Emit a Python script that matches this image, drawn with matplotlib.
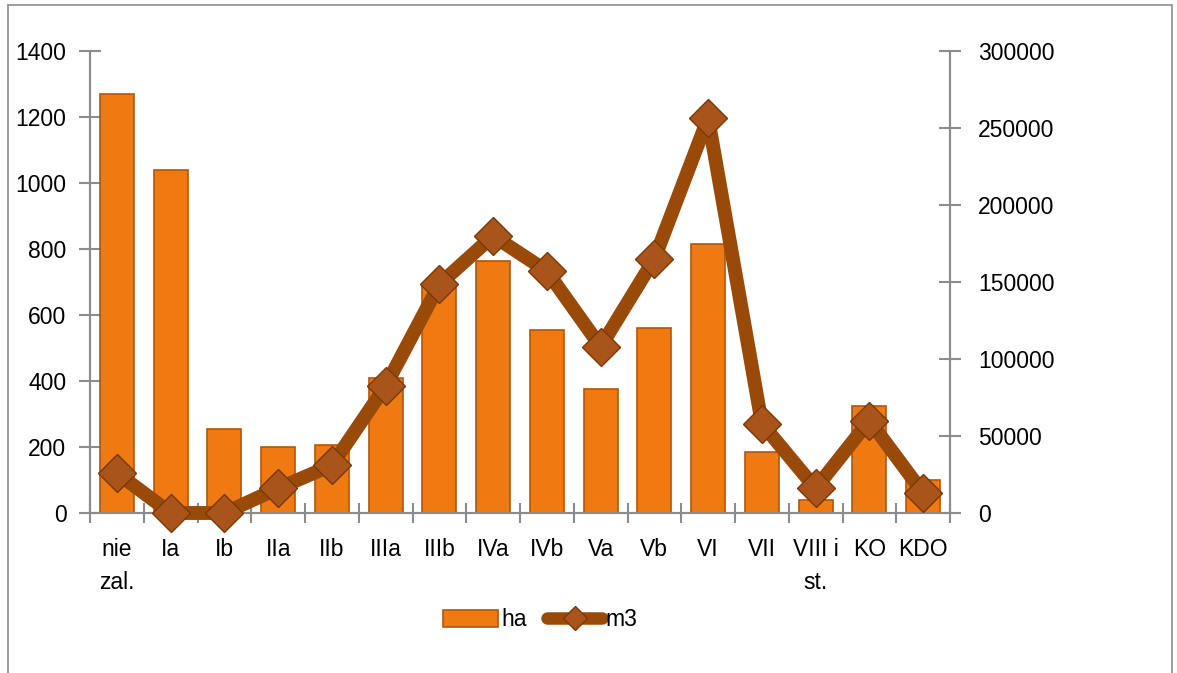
import matplotlib
matplotlib.use("Agg")
import matplotlib.pyplot as plt
from matplotlib.patches import Rectangle
from matplotlib.lines import Line2D
import numpy as np

# Data
categories = ["nie\nzal.", "Ia", "Ib", "IIa", "IIb", "IIIa", "IIIb", "IVa",
              "IVb", "Va", "Vb", "VI", "VII", "VIII i\nst.", "KO", "KDO"]
ha = [1270, 1040, 255, 200, 205, 410, 690, 765,
      555, 375, 560, 815, 185, 40, 325, 100]
m3 = [26000, 0, 0, 16000, 31000, 82500, 148500, 180000,
      157000, 108000, 165000, 256500, 58000, 16000, 60000, 13000]

bar_color = "#F07A12"
bar_edge = "#B2560A"
line_color = "#9A4A08"
marker_face = "#A9541A"
marker_edge = "#7A3806"
axis_color = "#8C8C8C"
fs = 16.5

plt.rcParams["font.family"] = ["Liberation Sans", "DejaVu Sans"]

fig = plt.figure(figsize=(11.77, 6.73), dpi=100)
ax = fig.add_axes([90 / 1177, 1 - 513 / 673, 860 / 1177, 462 / 673])
ax2 = ax.twinx()

x = np.arange(len(categories))
ax.bar(x, ha, width=0.63, color=bar_color, edgecolor=bar_edge, linewidth=1.2, zorder=2)
ax.set_xlim(-0.5, len(categories) - 0.5)
ax.set_ylim(0, 1400)
ax.set_yticks(range(0, 1401, 200))

ax2.plot(x, m3, color=line_color, linewidth=10, marker="D", markersize=19,
         markerfacecolor=marker_face, markeredgecolor=marker_edge,
         markeredgewidth=1, solid_joinstyle="round", zorder=3, clip_on=False)
ax2.set_ylim(0, 300000)
ax2.set_yticks(range(0, 300001, 50000))

# x ticks at category boundaries, labels at centres
ax.set_xticks(np.arange(-0.5, len(categories), 1))
ax.set_xticklabels([])
ax.set_xticks(x, minor=True)
ax.set_xticklabels(categories, minor=True, fontsize=fs, linespacing=1.55)
ax.tick_params(axis="x", which="minor", length=0, pad=18)
ax.tick_params(axis="x", which="major", direction="inout", length=14,
               color=axis_color, width=1.5)

ax.tick_params(axis="y", direction="inout", length=16, color=axis_color,
               width=1.5, labelsize=fs, pad=9)
ax2.tick_params(axis="y", direction="inout", length=16, color=axis_color,
                width=1.5, labelsize=fs, pad=12)

for a in (ax, ax2):
    a.spines["top"].set_visible(False)
    for s in ("left", "right", "bottom"):
        a.spines[s].set_color(axis_color)
        a.spines[s].set_linewidth(1.5)
ax.set_zorder(1)
ax2.set_zorder(2)
ax2.patch.set_visible(False)

# legend
handles = [
    Rectangle((0, 0), 1, 1, facecolor=bar_color, edgecolor=bar_edge, linewidth=1.2),
    Line2D([0], [0], color=line_color, linewidth=9, marker="D", markersize=12,
           markerfacecolor=marker_face, markeredgecolor=marker_edge,
           solid_capstyle="round"),
]
fig.legend(handles, ["ha", "m3"], loc="center",
           bbox_to_anchor=(540 / 1177, 1 - 620 / 673), ncol=2, frameon=False,
           fontsize=fs, handlelength=2.4, handletextpad=0.15, columnspacing=0.9)

# outer chart border
fig.patches.append(Rectangle((8 / 1177, -0.01), 1164 / 1177, 1 - 5 / 673 + 0.01,
                             transform=fig.transFigure, fill=False,
                             edgecolor=axis_color, linewidth=1.2))

fig.savefig("out.png", dpi=100)
